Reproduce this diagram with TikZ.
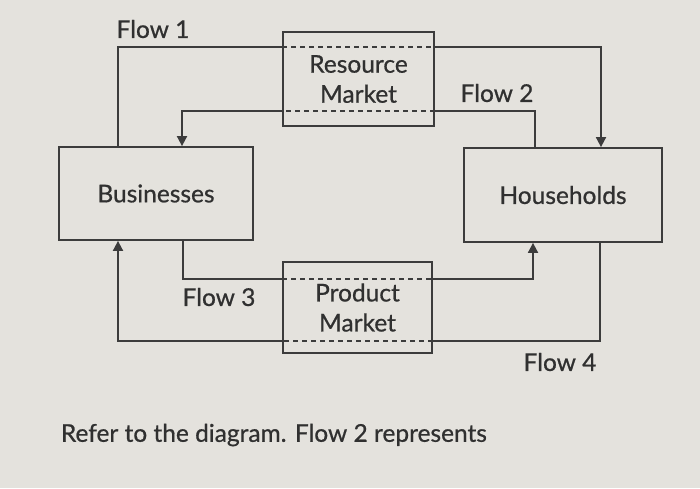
\documentclass[tikz,border=0pt]{standalone}
\usepackage{fontspec}
\setmainfont{Lato}[FakeBold=0.7]
\usepackage{tikz}
\usetikzlibrary{arrows.meta}
\definecolor{paperc}{HTML}{E4E2DD}
\definecolor{inkc}{HTML}{3C3C3C}
\definecolor{textc}{HTML}{303030}

\begin{document}
\begin{tikzpicture}[x=1pt, y=-1pt, line width=1.8pt, inkc,
  font=\fontsize{24.5}{30}\selectfont,
  box/.style={draw, inner sep=0pt, text=textc, align=center},
  lbl/.style={text=textc, inner sep=0pt},
  mid/.style={dash pattern=on 5pt off 4pt},
  tip/.style={-{Triangle[length=10pt,width=10pt]}}]
  \fill[paperc] (0,0) rectangle (700,488);
  % boxes
  \node[box, minimum width=194pt, minimum height=93pt] (bus) at (156,193.5) {Businesses};
  \node[box, minimum width=198pt, minimum height=94pt] (hh) at (563,195) {Households};
  \node[box, minimum width=151pt, minimum height=94pt] (resmkt) at (358.5,79) {Resource\\Market};
  \node[box, minimum width=149pt, minimum height=91pt] (prodmkt) at (357.5,307.5) {Product\\Market};
  % flow 1
  \draw (bus.north -| 118,0) |- (resmkt.west |- 0,47);
  \draw[mid] (resmkt.west |- 0,47) -- (resmkt.east |- 0,47);
  \draw[tip] (resmkt.east |- 0,47) -| (hh.north -| 601,0);
  % flow 2
  \draw (hh.north -| 535,0) |- (resmkt.east |- 0,111);
  \draw[mid] (resmkt.east |- 0,111) -- (resmkt.west |- 0,111);
  \draw[tip] (resmkt.west |- 0,111) -| (bus.north -| 182,0);
  % flow 3
  \draw (bus.south -| 183,0) |- (prodmkt.west |- 0,279);
  \draw[mid] (prodmkt.west |- 0,279) -- (prodmkt.east |- 0,279);
  \draw[tip] (prodmkt.east |- 0,279) -| (hh.south -| 533,0);
  % flow 4
  \draw (hh.south -| 600,0) |- (prodmkt.east |- 0,341);
  \draw[mid] (prodmkt.east |- 0,341) -- (prodmkt.west |- 0,341);
  \draw[tip] (prodmkt.west |- 0,341) -| (bus.south -| 118,0);
  % labels
  \node[lbl] (f1) at (153,29) {Flow 1};
  \node[lbl] (f2) at (497,93) {Flow 2};
  \node[lbl] (f3) at (219,297) {Flow 3};
  \node[lbl] (f4) at (560,362) {Flow 4};
  \node[lbl, anchor=west] (cap) at (60,435) {Refer to the diagram. Flow 2 represents};
\end{tikzpicture}
\end{document}
